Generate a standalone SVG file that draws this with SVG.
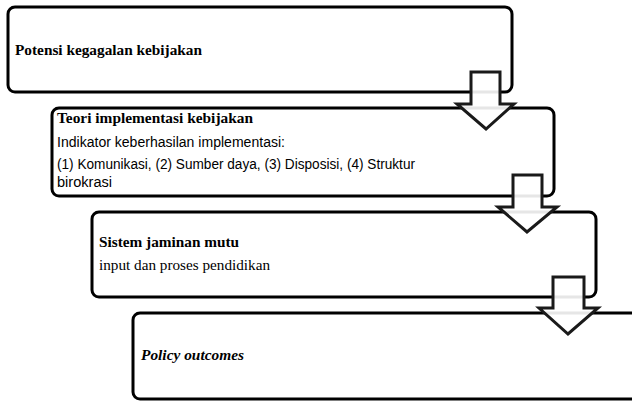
<svg xmlns="http://www.w3.org/2000/svg" width="632" height="401" viewBox="0 0 632 401">
<style>
.box{fill:#fff;stroke:#000;stroke-width:3}
.arr{fill:#fff;fill-opacity:0.9;stroke:#1a1a1a;stroke-width:3;stroke-linejoin:miter}
.h{font-family:"Liberation Serif",serif;font-weight:bold;font-size:15.5px;fill:#000}
.s{font-family:"Liberation Sans",sans-serif;font-size:14px;fill:#000}
.r{font-family:"Liberation Serif",serif;font-size:15px;fill:#000}
</style>
<rect width="632" height="401" fill="#fff"/>
<g id="node1">
<rect class="box" x="8" y="7" width="504" height="85" rx="7"/>
<text class="h" x="15" y="55" textLength="187" lengthAdjust="spacingAndGlyphs">Potensi kegagalan kebijakan</text>
</g>
<g id="node2">
<rect class="box" x="52" y="108" width="502" height="88" rx="7"/>
<text class="h" x="57" y="123" textLength="196" lengthAdjust="spacingAndGlyphs">Teori implementasi kebijakan</text>
<text class="s" x="57" y="147" textLength="228" lengthAdjust="spacingAndGlyphs">Indikator keberhasilan implementasi:</text>
<text class="s" x="57" y="169" textLength="358" lengthAdjust="spacingAndGlyphs">(1) Komunikasi, (2) Sumber daya, (3) Disposisi, (4) Struktur</text>
<text class="s" x="57" y="187" textLength="55" lengthAdjust="spacingAndGlyphs">birokrasi</text>
</g>
<g id="node3">
<rect class="box" x="92" y="212" width="504" height="85" rx="7"/>
<text class="h" x="99" y="247" textLength="140" lengthAdjust="spacingAndGlyphs">Sistem jaminan mutu</text>
<text class="r" x="99" y="270" textLength="171" lengthAdjust="spacingAndGlyphs">input dan proses pendidikan</text>
</g>
<g id="node4">
<rect class="box" x="133" y="313" width="520" height="86" rx="7"/>
<text class="h" x="141" y="360" font-style="italic" textLength="103" lengthAdjust="spacingAndGlyphs">Policy outcomes</text>
</g>
<g id="connectors">
<polygon class="arr" points="471,72 500,72 500,104 514,104 486,129 457,104 471,104"/>
<polygon class="arr" points="513,175 542,175 542,207 557,207 527,232 498,207 513,207"/>
<polygon class="arr" points="553,277 584,277 584,308 598,308 568,334 539,308 553,308"/>
</g>
</svg>
